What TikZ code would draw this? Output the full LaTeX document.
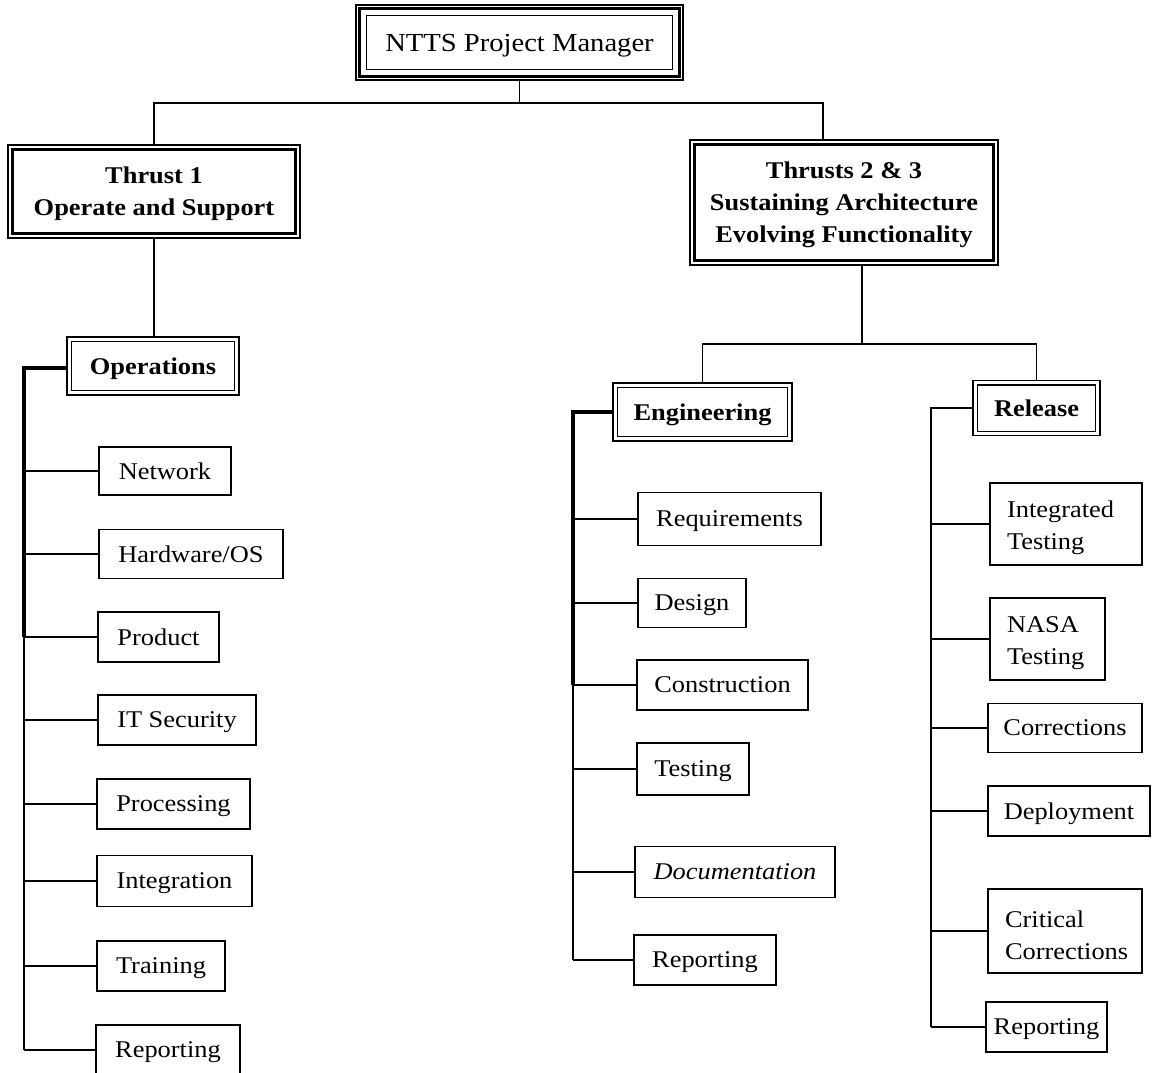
\documentclass[tikz,border=0pt]{standalone}
\usepackage{fontspec}
\setmainfont{Liberation Serif}[FakeStretch=1.1]
\begin{document}
\begin{tikzpicture}[x=1pt,y=-1pt,
  leaf/.style={draw, line width=1.4pt, inner sep=0pt, text depth=0pt,
    font=\fontsize{24}{32}\selectfont},
  leaftwo/.style={leaf, align=left, inner xsep=17pt, text depth={}, text height=25pt},
  head/.style={draw, line width=1.2pt, inner sep=0pt, align=center, text depth=0pt,
    font=\bfseries\fontsize{24}{32}\selectfont},
  link/.style={line width=1.6pt},
  bus/.style={line width=4pt},
  innerthick/.style={line width=3.5pt},
  innerthin/.style={line width=1.2pt}]
\useasboundingbox (0,0) rectangle (1155,1072);

% ---------- top level ----------
\node[head, font=\fontsize{26}{32}\selectfont, minimum width=327pt, minimum height=75pt]
  (pm) at (519.5,42.5) {NTTS Project Manager};
\draw[line width=3.2pt] ([shift={(4pt,-4pt)}]pm.north west) rectangle ([shift={(-4pt,4pt)}]pm.south east);
\draw[innerthin] ([shift={(11pt,-11pt)}]pm.north west) rectangle ([shift={(-11pt,11pt)}]pm.south east);

% ---------- thrusts ----------
\node[head, minimum width=292pt, minimum height=93pt] (t1) at (154,191.5)
  {Thrust 1\\Operate and Support};
\draw[innerthick] ([shift={(5pt,-5pt)}]t1.north west) rectangle ([shift={(-5pt,5pt)}]t1.south east);

\node[head, minimum width=308pt, minimum height=125pt] (t23) at (844,202.5)
  {Thrusts 2 \& 3\\Sustaining Architecture\\Evolving Functionality};
\draw[innerthick] ([shift={(5pt,-5pt)}]t23.north west) rectangle ([shift={(-5pt,5pt)}]t23.south east);

\coordinate (j0) at (521,103);
\draw[link] (pm.south) -- (pm.south |- j0);
\draw[link] (t1.north) |- (j0) -| ([xshift=-21pt]t23.north);

% ---------- groups ----------
\node[head, minimum width=172pt, minimum height=58pt] (ops) at (153,366) {Operations};
\draw[innerthin] ([shift={(5pt,-5pt)}]ops.north west) rectangle ([shift={(-5pt,5pt)}]ops.south east);

\node[head, minimum width=179pt, minimum height=58pt] (eng) at (702.5,412) {Engineering};
\draw[innerthin] ([shift={(5pt,-5pt)}]eng.north west) rectangle ([shift={(-5pt,5pt)}]eng.south east);

\node[head, minimum width=127pt, minimum height=55pt] (rel) at (1036.5,408) {Release};
\draw[innerthin] ([shift={(5pt,-5pt)}]rel.north west) rectangle ([shift={(-5pt,5pt)}]rel.south east);

\draw[link] (t1.south) -- (t1.south |- ops.north);
\coordinate (j1) at (862,344);
\draw[link] ([xshift=18pt]t23.south) -- (j1);
\draw[link] (eng.north) |- (j1) -| (rel.north);

% ---------- operations items ----------
\node[leaf, minimum width=132pt, minimum height=48pt] (net)   at (165,471)    {Network};
\node[leaf, minimum width=184pt, minimum height=49pt] (hw)    at (191,554)    {Hardware/OS};
\node[leaf, minimum width=121pt, minimum height=50pt] (prod)  at (158.5,637)  {Product};
\node[leaf, minimum width=158pt, minimum height=50pt] (itsec) at (177,720)    {IT Security};
\node[leaf, minimum width=153pt, minimum height=50pt] (proc)  at (173.5,804)  {Processing};
\node[leaf, minimum width=155pt, minimum height=51pt] (integ) at (174.5,881)  {Integration};
\node[leaf, minimum width=128pt, minimum height=50pt] (train) at (161,966)    {Training};
\node[leaf, minimum width=144pt, minimum height=50pt] (repa)  at (168,1050)   {Reporting};

\coordinate (ba) at (24,368);
\draw[bus] (ops.west |- ba) -- (ba) -- (ba |- prod.west);
\draw[line width=2pt] (ba |- prod.west) -- (ba |- repa.west);
\foreach \n in {net,hw,prod,itsec,proc,integ,train,repa}
  \draw[link] (\n.west) -- (\n.west -| ba);

% ---------- engineering items ----------
\node[leaf, minimum width=183pt, minimum height=53pt] (req)  at (729.5,519)   {Requirements};
\node[leaf, minimum width=108pt, minimum height=49pt] (des)  at (692,603)     {Design};
\node[leaf, minimum width=171pt, minimum height=50pt] (cons) at (722.5,685)   {Construction};
\node[leaf, minimum width=112pt, minimum height=52pt] (test) at (693,769)     {Testing};
\node[leaf, minimum width=200pt, minimum height=51pt] (doc)  at (735,872)     {\itshape Documentation};
\node[leaf, minimum width=142pt, minimum height=50pt] (repb) at (705,960)     {Reporting};

\coordinate (bb) at (573,412);
\draw[bus] (eng.west) -- (bb) -- (bb |- cons.west);
\draw[line width=2pt] (bb |- cons.west) -- (bb |- repb.west);
\foreach \n in {req,des,cons,test,doc,repb}
  \draw[link] (\n.west) -- (\n.west -| bb);

% ---------- release items ----------
\node[leaftwo, text width=118pt, minimum height=82pt] (itest) at (1066,524)   {Integrated\\Testing};
\node[leaftwo, text width=81pt,  minimum height=82pt] (nasa)  at (1047.5,639) {NASA\\Testing};
\node[leaf, minimum width=154pt, minimum height=49pt] (corr)  at (1065,728)   {Corrections};
\node[leaf, minimum width=162pt, minimum height=50pt] (depl)  at (1069,811)   {Deployment};
\node[leaftwo, text width=120pt, minimum height=84pt] (crit)  at (1065,931)   {Critical\\Corrections};
\node[leaf, minimum width=121pt, minimum height=50pt] (repc)  at (1046.5,1027){Reporting};

\coordinate (bc) at (931,409);
\draw[link] (rel.west) -- (rel.west -| bc) -- (bc |- repc.west);
\foreach \n in {itest,nasa,corr,depl,crit,repc}
  \draw[link] (\n.west) -- (\n.west -| bc);
\end{tikzpicture}
\end{document}
